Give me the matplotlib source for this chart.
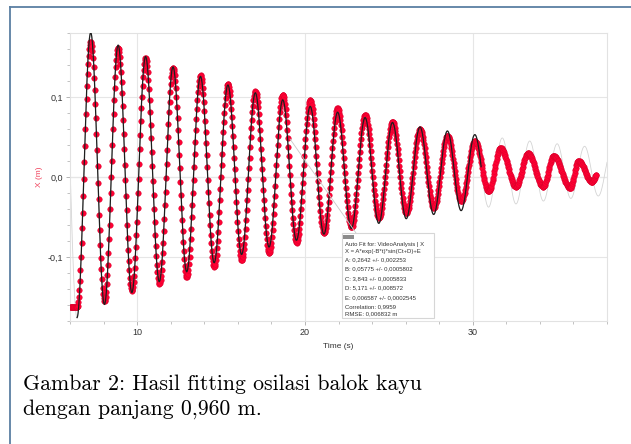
import matplotlib.pyplot as plt
import numpy as np
from matplotlib.lines import Line2D
from matplotlib.patches import Rectangle
from matplotlib.ticker import MultipleLocator, FixedLocator, FuncFormatter

# fit parameters read from the Auto Fit box
A, B, C, D, E = 0.2642, 0.05775, 3.843, 5.171, 0.006587
fit_start, fit_end = 6.42, 30.5

turn_t = [6.0, 6.42, 7.24, 8.06, 8.87, 9.69, 10.51, 11.33, 12.14, 12.96, 13.78,
          14.60, 15.41, 16.23, 17.05, 17.87, 18.68, 19.50, 20.32, 21.14, 21.95,
          22.77, 23.59, 24.41, 25.22, 26.04, 26.86, 27.68, 28.49, 29.31, 30.13,
          30.95, 31.65, 32.58, 33.29, 34.20, 34.82, 35.80, 36.30, 37.10, 37.40]
turn_x = [-0.162, -0.162, 0.169, -0.155, 0.161, -0.142, 0.149, -0.1335, 0.1365,
          -0.125, 0.127, -0.112, 0.116, -0.104, 0.107, -0.095, 0.103, -0.082,
          0.096, -0.070, 0.086, -0.063, 0.078, -0.051, 0.069, -0.045, 0.0596,
          -0.0385, 0.0515, -0.030, 0.045, -0.018, 0.0365, -0.012, 0.0296,
          -0.012, 0.0265, -0.0135, 0.020, -0.006, 0.003]
fps = 30

box_lines = ['Auto Fit for: VideoAnalysis | X',
             'X = A*exp(-B*t)*sin(Ct+D)+E',
             'A: 0,2642 +/- 0,002253',
             'B: 0,05775 +/- 0,0005802',
             'C: 3,843 +/- 0,0005833',
             'D: 5,171 +/- 0,008572',
             'E: 0,006587 +/- 0,0002545',
             'Correlation: 0,9959',
             'RMSE: 0,006832 m']
caption = ['Gambar 2: Hasil fitting osilasi balok kayu',
           'dengan panjang 0,960 m.']

W, H = 631, 444


def fx(x):
    return x / W


def fy(y):
    return 1 - y / H


# video frames: flat before release, half-cosine swing between turning points
t_data, x_data = [], []
for i in range(len(turn_t) - 1):
    t0, t1 = turn_t[i], turn_t[i + 1]
    x0, x1 = turn_x[i], turn_x[i + 1]
    for t in np.arange(t0, t1, 1 / fps):
        u = (t - t0) / (t1 - t0)
        t_data.append(t)
        x_data.append(x0 + (x1 - x0) * (1 - np.cos(np.pi * u)) / 2)


def model(t):
    return A * np.exp(-B * t) * np.sin(C * t + D) + E


fig = plt.figure(figsize=(6.31, 4.44), dpi=100)
ax = fig.add_axes([fx(70), fy(321), fx(607 - 70), (321 - 33) / H])

t_all = np.linspace(6, 38, 3000)
ax.plot(t_all, model(t_all), color='#d4d4d4', lw=0.6, zorder=2)
ax.plot(t_data, x_data, 'o', ms=4.0, mfc='#ff0033', mec='#d6002b', mew=0.3, zorder=3)
t_fit = np.linspace(fit_start, fit_end, 2000)
ax.plot(t_fit, model(t_fit), color='#1e1e1e', lw=0.9, zorder=4)

ax.set_xlim(6, 38)
ax.set_ylim(-0.18, 0.18)
ax.xaxis.set_major_locator(FixedLocator([10, 20, 30]))
ax.xaxis.set_minor_locator(MultipleLocator(2))
ax.yaxis.set_major_locator(FixedLocator([-0.1, 0.0, 0.1]))
ax.yaxis.set_minor_locator(MultipleLocator(0.02))
ax.yaxis.set_major_formatter(FuncFormatter(lambda v, p: f'{v:.1f}'.replace('.', ',')))
ax.tick_params(which='both', direction='out', color='#aaaaaa', labelsize=6.5,
               labelcolor='#333333', pad=2)
ax.tick_params(which='major', length=3, width=0.6)
ax.tick_params(which='minor', length=2, width=0.5)
for lab in ax.get_xticklabels() + ax.get_yticklabels():
    lab.set_fontfamily('Liberation Sans')
ax.grid(True, which='major', color='#e6e6e6', lw=0.8, zorder=0)
ax.axhline(0, color='#cccccc', lw=0.8, zorder=1)
for s in ax.spines.values():
    s.set_color('#e2e2e2')
    s.set_linewidth(0.8)

ax.set_xlabel('Time (s)', fontsize=6, family='Liberation Sans', color='#333333', labelpad=4)
ax.set_ylabel('X (m)', fontsize=6, family='Liberation Sans', color='#f0405a', labelpad=3)

# leader line and Auto Fit box
fig.add_artist(Line2D([fx(290), fx(356)], [fy(139), fy(233)], color='#c8c8c8', lw=0.6, zorder=5))
fig.add_artist(Rectangle((fx(341.7), fy(318.3)), fx(92.6), 85 / H, facecolor='white',
                         edgecolor='#d6d6d6', lw=0.8, zorder=6))
fig.add_artist(Rectangle((fx(342.7), fy(239.5)), fx(11.5), 4.5 / H, facecolor='#8c8c8c',
                         edgecolor='none', zorder=7))
line_y = [244, 251.5, 259.5, 269, 278.5, 288, 297.5, 306.5, 314]
for txt, yy in zip(box_lines, line_y):
    fig.text(fx(345), fy(yy), txt, fontsize=4.3, family='Liberation Sans',
             color='#333333', va='center', ha='left', zorder=8)

# outer frame
fig.add_artist(Line2D([fx(9.5), 1.0], [fy(7), fy(7)], color='#5b7fa3', lw=1.3))
fig.add_artist(Line2D([fx(9.5), fx(9.5)], [0, fy(7)], color='#5b7fa3', lw=1.3))

for txt, yy in zip(caption, [390, 415]):
    fig.text(fx(23), fy(yy), txt, fontsize=15.7, family='cmr10', color='black',
             ha='left', va='baseline')

fig.savefig('out.png', dpi=100)
